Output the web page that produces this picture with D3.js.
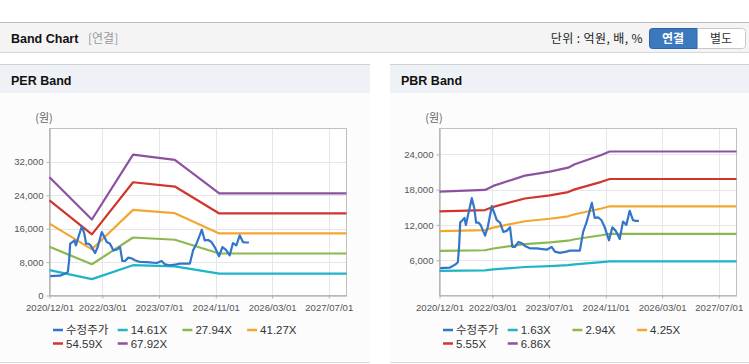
<!DOCTYPE html>
<html><head><meta charset="utf-8">
<script src="https://cdn.jsdelivr.net/npm/d3@7"></script>
<style>body{margin:0;background:#fff;} svg{display:block;}</style>
</head><body><svg id="c" width="749" height="364"></svg>
<script>
// ---------- DATA ----------
const xTickDates = ["2020-12-01","2022-03-01","2023-07-01","2024-11-01","2026-03-01","2027-07-01"];
const xTickLabels = ["2020/12/01","2022/03/01","2023/07/01","2024/11/01","2026/03/01","2027/07/01"];
const xDomain = ["2020-12-01","2027-12-01"];

const priceDates = ["2020-12-07","2021-03-01","2021-04-15","2021-05-08","2021-05-19","2021-05-28","2021-06-16","2021-07-04","2021-07-16","2021-08-07","2021-09-05","2021-09-27","2021-10-12","2021-11-01","2021-11-20","2021-12-28","2022-01-20","2022-02-24","2022-03-18","2022-04-08","2022-05-06","2022-06-03","2022-07-02","2022-07-31","2022-08-20","2022-09-12","2022-10-10","2022-11-08","2022-12-06","2023-01-18","2023-03-17","2023-06-11","2023-07-24","2023-08-21","2023-10-03","2023-11-29","2023-12-28","2024-03-23","2024-04-20","2024-05-19","2024-06-16","2024-07-04","2024-07-29","2024-08-27","2024-09-25","2024-10-23","2024-11-29","2024-12-28","2025-01-26","2025-03-01","2025-03-29","2025-04-27","2025-05-26","2025-06-23","2025-07-16","2025-08-13"];
const priceValues = [4650,4750,5250,5650,8430,12400,12800,13200,12000,14000,16550,14800,12400,12400,12000,10170,11600,15190,13990,12800,12400,10820,10990,11600,8260,8260,9070,8900,8430,8020,8000,7790,8260,7470,7240,7470,7640,7640,10820,12420,14400,15760,13200,13300,12800,11600,9390,11600,10990,9620,12560,12010,14400,12800,12700,12700];

const perBandDates = ["2020-12-01","2021-12-01","2022-11-20","2023-11-15","2024-12-01","2027-12-01"];
const per1461 = [6092,3915,7261,6984,5260,5260];
const per2794 = [11651,7488,13886,13355,10058,10058];
const per4127 = [17210,11060,20511,19727,14857,14857];
const per5459 = [22764,14630,27131,26094,19652,19652];
const per6792 = [28323,18203,33756,32466,24451,24451];

const pbrBandDates = ["2020-12-01","2021-12-28","2022-03-09","2022-12-06","2023-07-09","2023-12-13","2024-02-08","2024-09-24","2024-12-05","2027-12-01"];
const pbr163 = [4201,4266,4429,4844,5004,5165,5301,5677,5819,5819];
const pbr294 = [7576,7694,7988,8738,9026,9317,9561,10240,10496,10496];
const pbr425 = [10952,11122,11547,12631,13048,13468,13821,14803,15173,15173];
const pbr555 = [14302,14524,15079,16495,17039,17588,18049,19331,19814,19814];
const pbr686 = [17678,17953,18639,20388,21060,21739,22309,23893,24490,24490];

const perLegend = ["수정주가","14.61X","27.94X","41.27X","54.59X","67.92X"];
const pbrLegend = ["수정주가","1.63X","2.94X","4.25X","5.55X","6.86X"];
const perYTicks = [0,8000,16000,24000,32000];
const pbrYTicks = [6000,12000,18000,24000];
const perYMax = 40000;
const pbrYMax = 28400;
const seriesColors = ["#3275c9","#1fb4c6","#8cb94f","#f3a731","#d2352c","#8c52a0"];

// ---------- DRAW ----------
const svg = d3.select("#c");
const parse = d3.timeParse("%Y-%m-%d");
const KR = "'Noto Sans CJK KR','Noto Sans',sans-serif";
const LAT = "'Liberation Sans',Arial,sans-serif";

// header
svg.append("rect").attr("x",0).attr("y",23).attr("width",749).attr("height",30).attr("fill","#d8d8d8");
svg.append("rect").attr("x",0).attr("y",22).attr("width",749).attr("height",30).attr("fill","#f4f4f4");
svg.append("line").attr("x1",0).attr("x2",749).attr("y1",22.5).attr("y2",22.5).attr("stroke","#bdbdbd");
svg.append("text").attr("x",11).attr("y",43).attr("font-family",LAT).attr("font-weight","bold")
  .attr("font-size",12.5).attr("fill","#111").text("Band Chart");
svg.append("text").attr("x",88).attr("y",43).attr("font-family",KR).attr("font-size",12)
  .attr("fill","#999").text("[연결]");
svg.append("text").attr("x",643).attr("y",43).attr("text-anchor","end").attr("font-family",KR).attr("font-size",12)
  .attr("letter-spacing",0.4).attr("fill","#222").text("단위 : 억원, 배, %");
svg.append("rect").attr("x",649.5).attr("y",28.5).attr("width",96).attr("height",20).attr("rx",3)
  .attr("fill","#fff").attr("stroke","#c8c8c8");
svg.append("path").attr("d","M652.5,28.5 H697 V48.5 H652.5 Q649.5,48.5 649.5,45.5 V31.5 Q649.5,28.5 652.5,28.5Z")
  .attr("fill","#3b78bd").attr("stroke","#2d66a8");
svg.append("text").attr("x",673).attr("y",43).attr("text-anchor","middle").attr("font-family",KR).attr("font-size",12)
  .attr("font-weight","bold").attr("fill","#fff").text("연결");
svg.append("text").attr("x",721).attr("y",43).attr("text-anchor","middle").attr("font-family",KR).attr("font-size",12)
  .attr("fill","#333").text("별도");

function drawPanel(x0, w, title, yTicks, yMax, bandDates, bands, legend){
  const g = svg.append("g").attr("transform",`translate(${x0},0)`);
  g.append("rect").attr("x",0).attr("y",64).attr("width",w).attr("height",298).attr("fill","#fcfcfc");
  g.append("rect").attr("x",0).attr("y",65).attr("width",w).attr("height",28).attr("fill","#eef1f6");
  g.append("line").attr("x1",0).attr("x2",w).attr("y1",64.5).attr("y2",64.5).attr("stroke","#d2d2d2");
  g.append("line").attr("x1",0).attr("x2",w).attr("y1",362.5).attr("y2",362.5).attr("stroke","#d9d9d9");
  g.append("text").attr("x",11).attr("y",84.5).attr("font-family",LAT).attr("font-weight","bold")
    .attr("font-size",12.5).attr("fill","#111").text(title);

  const L = 49.5, R = 346.5, T = 128.5, B = 295.5;
  const x = d3.scaleTime().domain(xDomain.map(parse)).range([L,R]);
  const y = d3.scaleLinear().domain([0,yMax]).range([B,T]);

  g.append("rect").attr("x",L).attr("y",T).attr("width",R-L).attr("height",B-T).attr("fill","#fff");
  g.append("g").selectAll("line").data(xTickDates).join("line")
    .attr("x1",d=>Math.round(x(parse(d)))+0.5).attr("x2",d=>Math.round(x(parse(d)))+0.5)
    .attr("y1",T).attr("y2",B).attr("stroke","#e6e6e6");
  g.append("g").selectAll("line").data(yTicks).join("line")
    .attr("x1",L).attr("x2",R).attr("y1",d=>Math.round(y(d))+0.5).attr("y2",d=>Math.round(y(d))+0.5)
    .attr("stroke","#e6e6e6");
  g.append("rect").attr("x",L).attr("y",T).attr("width",R-L).attr("height",B-T)
    .attr("fill","none").attr("stroke","#c0c0c0");
  const xAxis = d3.axisBottom(x).tickValues(xTickDates.map(parse))
    .tickFormat((d,i)=>xTickLabels[i]).tickSize(3).tickSizeOuter(0);
  const ax = g.append("g").attr("transform",`translate(0,${B})`).call(xAxis);
  ax.select(".domain").attr("stroke","#b0b0b0");
  ax.selectAll(".tick line").attr("stroke","#b0b0b0");
  ax.selectAll("text").attr("font-family",LAT).attr("font-size",9.6).attr("fill","#555").attr("dy","0.95em");
  const yAxis = d3.axisLeft(y).tickValues(yTicks).tickFormat(d3.format(",")).tickSize(3).tickSizeOuter(0);
  const ay = g.append("g").attr("transform",`translate(${L},0)`).call(yAxis);
  ay.select(".domain").attr("stroke","#b0b0b0");
  ay.selectAll(".tick line").attr("stroke","#b0b0b0");
  ay.selectAll("text").attr("font-family",LAT).attr("font-size",9.6).attr("fill","#555").attr("x",-6);
  g.append("text").attr("x",44).attr("y",122).attr("text-anchor","middle").attr("font-family",KR)
    .attr("font-size",11).attr("fill","#666").text("(원)");

  const line = d3.line().x(d=>x(d[0])).y(d=>y(d[1]));
  bands.forEach((vals,i)=>{
    const pts = bandDates.map((d,j)=>[parse(d),vals[j]]);
    g.append("path").datum(pts).attr("d",line).attr("fill","none")
      .attr("stroke",seriesColors[i+1]).attr("stroke-width",2.2).attr("stroke-linejoin","round");
  });
  const ppts = priceDates.map((d,j)=>[parse(d),priceValues[j]]);
  g.append("path").datum(ppts).attr("d",line).attr("fill","none")
    .attr("stroke",seriesColors[0]).attr("stroke-width",2.2).attr("stroke-linejoin","round");

  legend.forEach((name,i)=>{
    const row = i<4?0:1, col = i<4?i:i-4;
    const lx = 53 + col*64.7, ly = row===0?330:343.5;
    g.append("line").attr("x1",lx).attr("x2",lx+10).attr("y1",ly).attr("y2",ly)
      .attr("stroke",seriesColors[i]).attr("stroke-width",2.5);
    g.append("text").attr("x",lx+13).attr("y",ly+4).attr("font-family",i===0?KR:LAT)
      .attr("font-size",11.5).attr("fill","#333").text(name);
  });
}

drawPanel(0,370,"PER Band",perYTicks,perYMax,perBandDates,[per1461,per2794,per4127,per5459,per6792],perLegend);
drawPanel(390,359,"PBR Band",pbrYTicks,pbrYMax,pbrBandDates,[pbr163,pbr294,pbr425,pbr555,pbr686],pbrLegend);
</script></body></html>
